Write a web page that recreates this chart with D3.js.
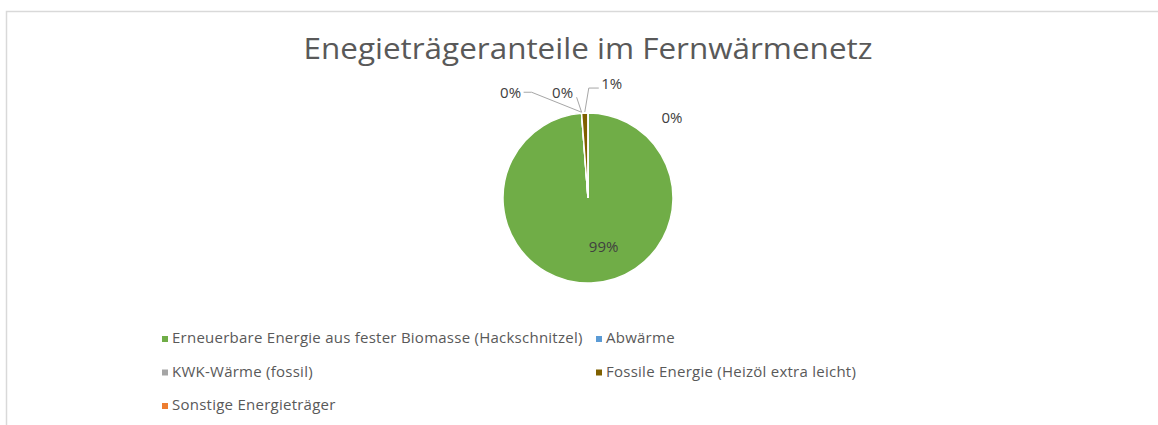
<!DOCTYPE html>
<html>
<head>
<meta charset="utf-8">
<script src="https://cdn.jsdelivr.net/npm/d3@7"></script>
<style>
  body { margin: 0; background: #fff; }
  #graph { width: 1158px; height: 425px; }
  text { font-family: "Open Sans", sans-serif; fill: #595959; }
</style>
</head>
<body>
<div id="graph"></div>
<script>
"use strict"

var categories = [
    "Erneuerbare Energie aus fester Biomasse (Hackschnitzel)",
    "Abwärme",
    "KWK-Wärme (fossil)",
    "Fossile Energie (Heizöl extra leicht)",
    "Sonstige Energieträger"
]
var shares = [98.8, 0, 0, 1.2, 0]
var shareLabels = ["99%", "0%", "0%", "1%", "0%"]
var colors = ["#70ad47", "#5b9bd5", "#a5a5a5", "#7f6000", "#ed7d31"]
var title = "Enegieträgeranteile im Fernwärmenetz"

var width = 1158, height = 425
var cx = 588, cy = 198, radius = 85

// label layout: offsets from the slice's outer point (or centroid for inside label)
var labelLayout = [
    {inside: true, dx: 14, dy: 0},
    {dx: -71, dy: -21, leader: [[-58, -21], [-50, -21]]},
    {dx: -19, dy: -21, leader: [[-5, -16]]},
    {dx: 27, dy: -29, leader: [[14, -25], [4, -25]]},
    {dx: 84, dy: 5}
]

main()

function main() {
    let svg = d3.select("#graph").append("svg")
        .attr("width", width).attr("height", height)

    // chart border
    svg.append("rect")
        .attr("x", 6.5).attr("y", 11.5)
        .attr("width", 1160).attr("height", 430)
        .attr("fill", "none")
        .attr("stroke", "#d9d9d9")
        .attr("stroke-width", 1.5)

    svg.append("text")
        .attr("x", cx).attr("y", 59)
        .attr("text-anchor", "middle")
        .attr("textLength", 569)
        .attr("lengthAdjust", "spacingAndGlyphs")
        .style("font-size", "29px")
        .text(title)

    let data = categories.map(function(c, i) {
        return {name: c, value: shares[i], label: shareLabels[i], color: colors[i], layout: labelLayout[i]}
    })

    let pie = d3.pie().sort(null).value(function(d) { return d.value })
    let arcs = pie(data)
    let arc = d3.arc().innerRadius(0).outerRadius(radius)

    let chart = svg.append("g").attr("transform", "translate(" + [cx, cy] + ")")

    chart.selectAll(".slice")
        .data(arcs)
        .enter().append("path")
        .attr("class", "slice")
        .attr("d", arc)
        .attr("fill", function(d) { return d.data.color })
        .attr("stroke", "#fff")
        .attr("stroke-width", 1.5)

    function outerPoint(d) {
        let a = (d.startAngle + d.endAngle) / 2
        return [radius * Math.sin(a), -radius * Math.cos(a)]
    }

    arcs.forEach(function(d) {
        let lay = d.data.layout
        let base = lay.inside ? arc.centroid(d) : outerPoint(d)
        if (lay.inside) base = [base[0], base[1] + 6]
        if (lay.leader) {
            let pts = lay.leader.map(function(p) { return [base[0] + p[0], base[1] + p[1]] })
            pts.push([base[0], base[1] - 1])
            chart.append("path")
                .attr("d", d3.line()(pts))
                .attr("fill", "none")
                .attr("stroke", "#a6a6a6")
                .attr("stroke-width", 1)
        }
        chart.append("text")
            .attr("x", base[0] + lay.dx)
            .attr("y", base[1] + lay.dy)
            .attr("dy", "0.35em")
            .attr("text-anchor", "middle")
            .style("font-size", "15px")
            .style("fill", "#404040")
            .text(d.data.label)
    })

    // legend: two columns, three rows
    let legX = d3.scalePoint().domain([0, 1]).range([162, 596])
    let legY = d3.scalePoint().domain([0, 1, 2]).range([339, 406])

    let legend = svg.selectAll(".legend")
        .data(data)
        .enter().append("g")
        .attr("class", "legend")
        .attr("transform", function(d, i) {
            return "translate(" + [legX(i % 2), legY(Math.floor(i / 2))] + ")"
        })

    legend.append("rect")
        .attr("x", 0).attr("y", -3)
        .attr("width", 6).attr("height", 6)
        .attr("fill", function(d) { return d.color })

    legend.append("text")
        .attr("x", 10).attr("y", -1)
        .attr("dy", "0.35em")
        .style("font-size", "15px")
        .style("letter-spacing", "0.25px")
        .text(function(d) { return d.name })
}
</script>
</body>
</html>
